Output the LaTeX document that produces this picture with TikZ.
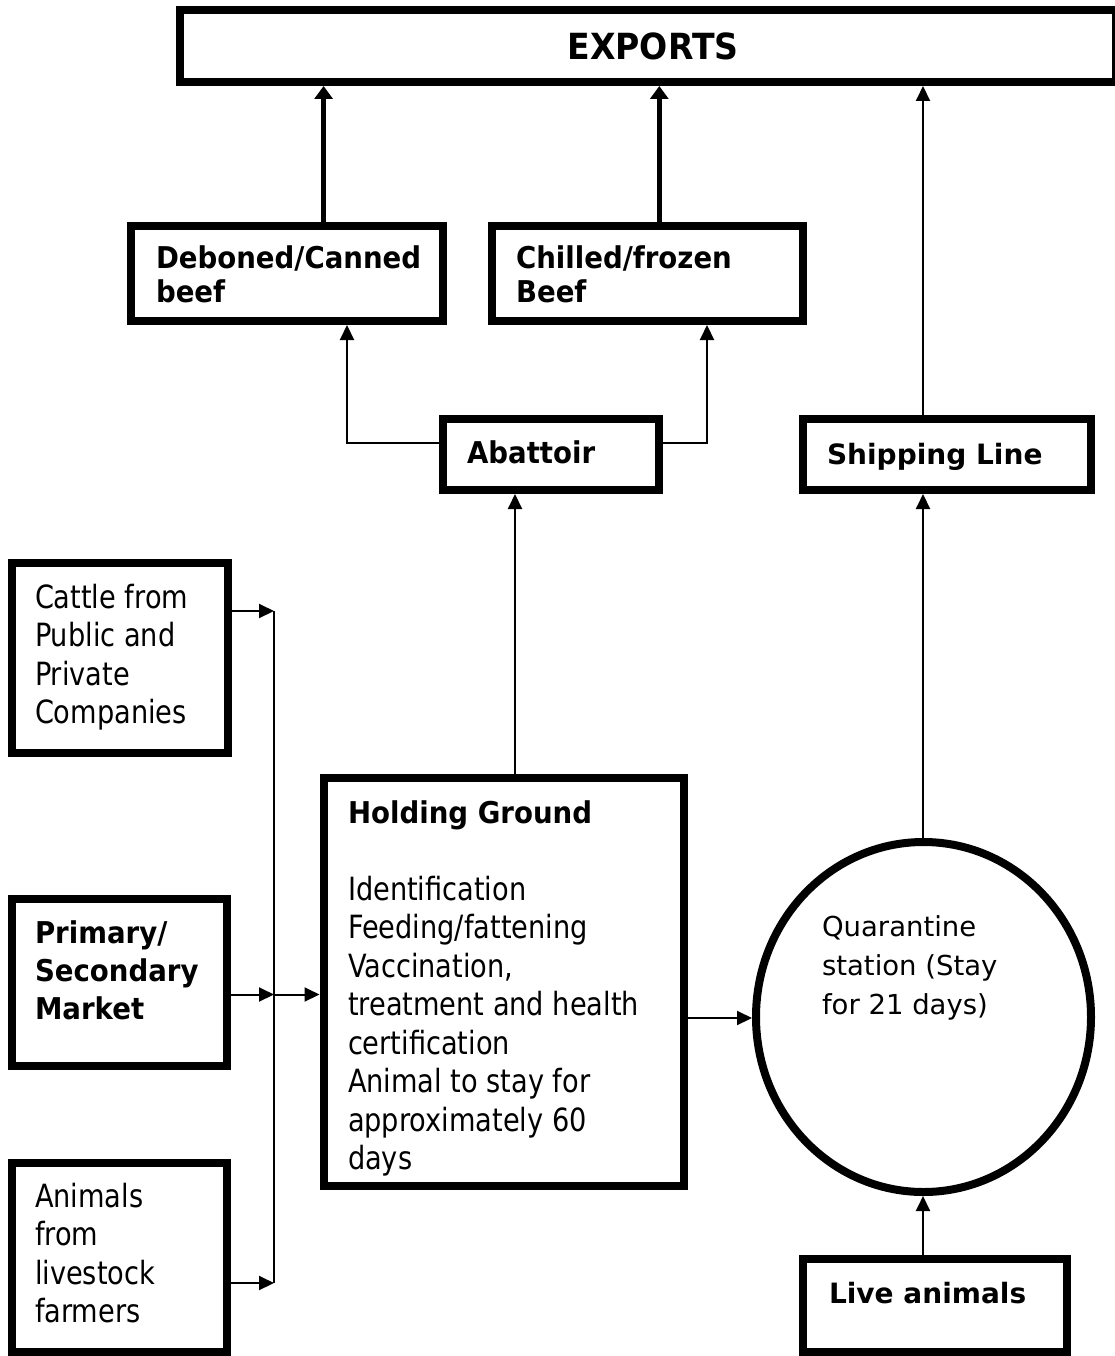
\documentclass[tikz,border=0pt]{standalone}
\usepackage{fontspec}
\setmainfont{DejaVu Sans}
\newfontfamily\tah{DejaVu Sans}[FakeStretch=0.85]
\newfontfamily\tahb{DejaVu Sans}[FakeStretch=0.92]
\usetikzlibrary{arrows.meta,shapes.geometric}
\tikzset{
  box/.style={draw, rectangle, line width=8pt, inner sep=0pt, outer sep=4pt},
  thinline/.style={line width=2pt},
  arr/.style={thinline, -{Triangle[length=15pt,width=14pt]}},
  fatarr/.style={line width=5pt, -{Triangle[length=13pt,width=18pt]}},
  lbl/.style={anchor=base west, inner sep=0pt, outer sep=0pt},
  tahtext/.style={lbl, font=\tah\fontsize{32}{38.5}\selectfont},
  boldtext/.style={lbl, font=\tahb\bfseries\fontsize{30}{34}\selectfont},
  verdbold/.style={lbl, font=\bfseries\fontsize{28}{34}\selectfont},
}
\begin{document}
\begin{tikzpicture}[x=1pt,y=-1pt]
\fill[white] (0,0) rectangle (1115,1356);
\useasboundingbox (0,0) rectangle (1115,1356);

% boxes
\node[box, minimum width=935.5pt, minimum height=72pt] (exp) at (647.75,46) {};
\node[box, minimum width=312pt, minimum height=95pt] (deb) at (287,273.5) {};
\node[box, minimum width=311pt, minimum height=95pt] (chi) at (647.5,273.5) {};
\node[box, minimum width=216pt, minimum height=71pt] (aba) at (551,454.5) {};
\node[box, minimum width=288pt, minimum height=71pt] (ship) at (947,454.5) {};
\node[box, minimum width=215.5pt, minimum height=190pt] (cat) at (119.75,658) {};
\node[box, minimum width=215pt, minimum height=167pt] (pri) at (119.5,982.5) {};
\node[box, minimum width=215pt, minimum height=189pt] (ani) at (119.5,1257.5) {};
\node[box, minimum width=360.5pt, minimum height=408pt] (hold) at (503.75,982) {};
\node[draw, ellipse, line width=8pt, inner sep=0pt, outer sep=4pt,
      minimum width=335pt, minimum height=350pt] (quar) at (923.5,1017) {};
\node[box, minimum width=264pt, minimum height=93pt] (live) at (935,1305.5) {};

% texts
\node[anchor=base, inner sep=0pt, font=\tahb\bfseries\fontsize{36}{40}\selectfont] (texp) at (653,60) {EXPORTS};
\node[boldtext] (tdeb) at (156,269) {\begin{tabular}[t]{@{}l@{}}Deboned/Canned\\beef\end{tabular}};
\node[boldtext] (tchi) at (516,269) {\begin{tabular}[t]{@{}l@{}}Chilled/frozen\\Beef\end{tabular}};
\node[boldtext] (taba) at (467,463) {Abattoir};
\node[verdbold] (tship) at (827,464) {Shipping Line};
\node[tahtext] (tcat) at (35,608) {\begin{tabular}[t]{@{}l@{}}Cattle from\\Public and\\Private\\Companies\end{tabular}};
\node[lbl, font=\tahb\bfseries\fontsize{30}{38}\selectfont] (tpri) at (35,943) {\begin{tabular}[t]{@{}l@{}}Primary/\\Secondary\\Market\end{tabular}};
\node[tahtext] (tani) at (35,1207) {\begin{tabular}[t]{@{}l@{}}Animals\\from\\livestock\\farmers\end{tabular}};
\node[tahtext] (thold) at (348,823) {\begin{tabular}[t]{@{}l@{}}{\tahb\bfseries\fontsize{30}{38.5}\selectfont Holding Ground}\\ \\Identification\\Feeding/fattening\\Vaccination,\\treatment and health\\certification\\Animal to stay for\\approximately 60\\days\end{tabular}};
\node[lbl, font=\fontsize{27.5}{39}\selectfont] (tquar) at (822,936.5) {\begin{tabular}[t]{@{}l@{}}Quarantine\\station (Stay\\for 21 days)\end{tabular}};
\node[verdbold] (tlive) at (829,1303) {Live animals};

% helper coordinates
\coordinate (xA) at (323.6,0);
\coordinate (xB) at (659.3,0);
\coordinate (xS) at (923,0);
\coordinate (xL) at (347,0);
\coordinate (xR) at (707,0);
\coordinate (xH) at (515,0);
\coordinate (yA) at (0,443);
\coordinate (yQ) at (0,1018);
\coordinate (bus1) at (274,611);
\coordinate (bus2) at (274,994.5);
\coordinate (bus3) at (274,1283);

% connectors
\draw[fatarr] (deb.north -| xA) -- (exp.south -| xA);
\draw[fatarr] (chi.north -| xB) -- (exp.south -| xB);
\draw[arr] (ship.north -| xS) -- (exp.south -| xS);
\draw[arr] (aba.west |- yA) -| (deb.south -| xL);
\draw[arr] (aba.east |- yA) -| (chi.south -| xR);
\draw[arr] (hold.north -| xH) -- (aba.south -| xH);
\draw[arr] (quar.north -| xS) -- (ship.south -| xS);
\draw[arr] (live.north -| xS) -- (quar.south -| xS);
\draw[arr] (hold.east |- yQ) -- (quar.west |- yQ);
\draw[arr] (cat.east |- bus1) -- (bus1);
\draw[arr] (pri.east |- bus2) -- (bus2);
\draw[arr] (ani.east |- bus3) -- (bus3);
\draw[thinline] (bus1) -- (bus3);
\draw[arr] (bus2) -- (hold.west |- bus2);
\end{tikzpicture}
\end{document}
